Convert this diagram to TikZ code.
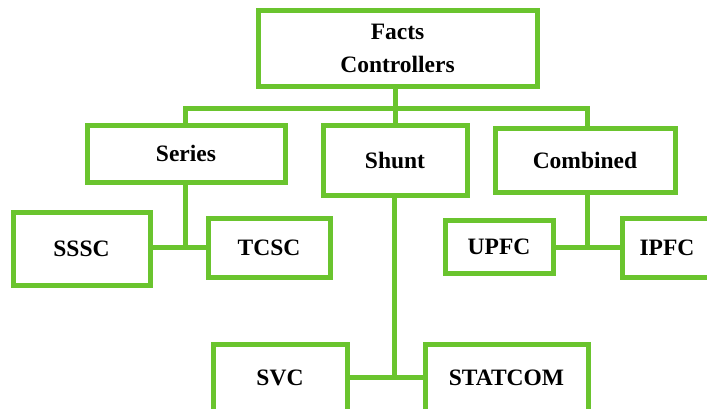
\documentclass[tikz,border=0pt]{standalone}
\usepackage{fontspec}
\setmainfont{Liberation Serif}
\definecolor{leaf}{RGB}{106,196,46}
\tikzset{
  box/.style={draw=leaf, line width=5pt, fill=white, inner sep=0pt,
    font=\fontsize{23.5}{33}\selectfont\bfseries, text=black, align=center},
  link/.style={draw=leaf, line width=5pt}
}
\begin{document}
\begin{tikzpicture}[x=1pt,y=-1pt]
  \useasboundingbox (0,0) rectangle (707,408);
  \clip (0,0) rectangle (707,408);

  % root
  \node[box, minimum width=279pt, minimum height=76pt] (root) at (397.5,48) {Facts\\Controllers};

  % categories
  \node[box, minimum width=198pt, minimum height=57pt] (series) at (186,153.5) {Series};
  \node[box, minimum width=144pt, minimum height=70pt] (shunt) at (395,160) {Shunt};
  \node[box, minimum width=180pt, minimum height=64pt] (comb) at (585,160) {Combined};

  % devices
  \node[box, minimum width=137pt, minimum height=73pt] (sssc) at (81.5,248.5) {SSSC};
  \node[box, minimum width=122pt, minimum height=59pt] (tcsc) at (269,247.5) {TCSC};
  \node[box, minimum width=108pt, minimum height=53pt] (upfc) at (499,246.5) {UPFC};
  \node[box, minimum width=90pt, minimum height=59pt] (ipfc) at (667,247.5) {IPFC};
  \node[box, minimum width=134pt, minimum height=68pt] (svc) at (280,378) {SVC};
  \node[box, minimum width=163pt, minimum height=68pt] (statcom) at (506.5,378) {STATCOM};

  % bus from the root to the three categories
  \coordinate (bus) at (395,108);
  \draw[link] (root.south -| bus) -- (shunt.north -| bus);
  \draw[link] (series.north -| 185,0) |- (bus) -| (comb.north -| 587,0);

  % branches to the devices
  \coordinate (sj) at (185,247);
  \coordinate (cj) at (587,247);
  \coordinate (hj) at (394,377);
  \draw[link] (series.south -| sj) -- (sj);
  \draw[link] (sssc.east |- sj) -- (tcsc.west |- sj);
  \draw[link] (comb.south -| cj) -- (cj);
  \draw[link] (upfc.east |- cj) -- (ipfc.west |- cj);
  \draw[link] (shunt.south -| hj) -- (hj);
  \draw[link] (svc.east |- hj) -- (statcom.west |- hj);
\end{tikzpicture}
\end{document}
